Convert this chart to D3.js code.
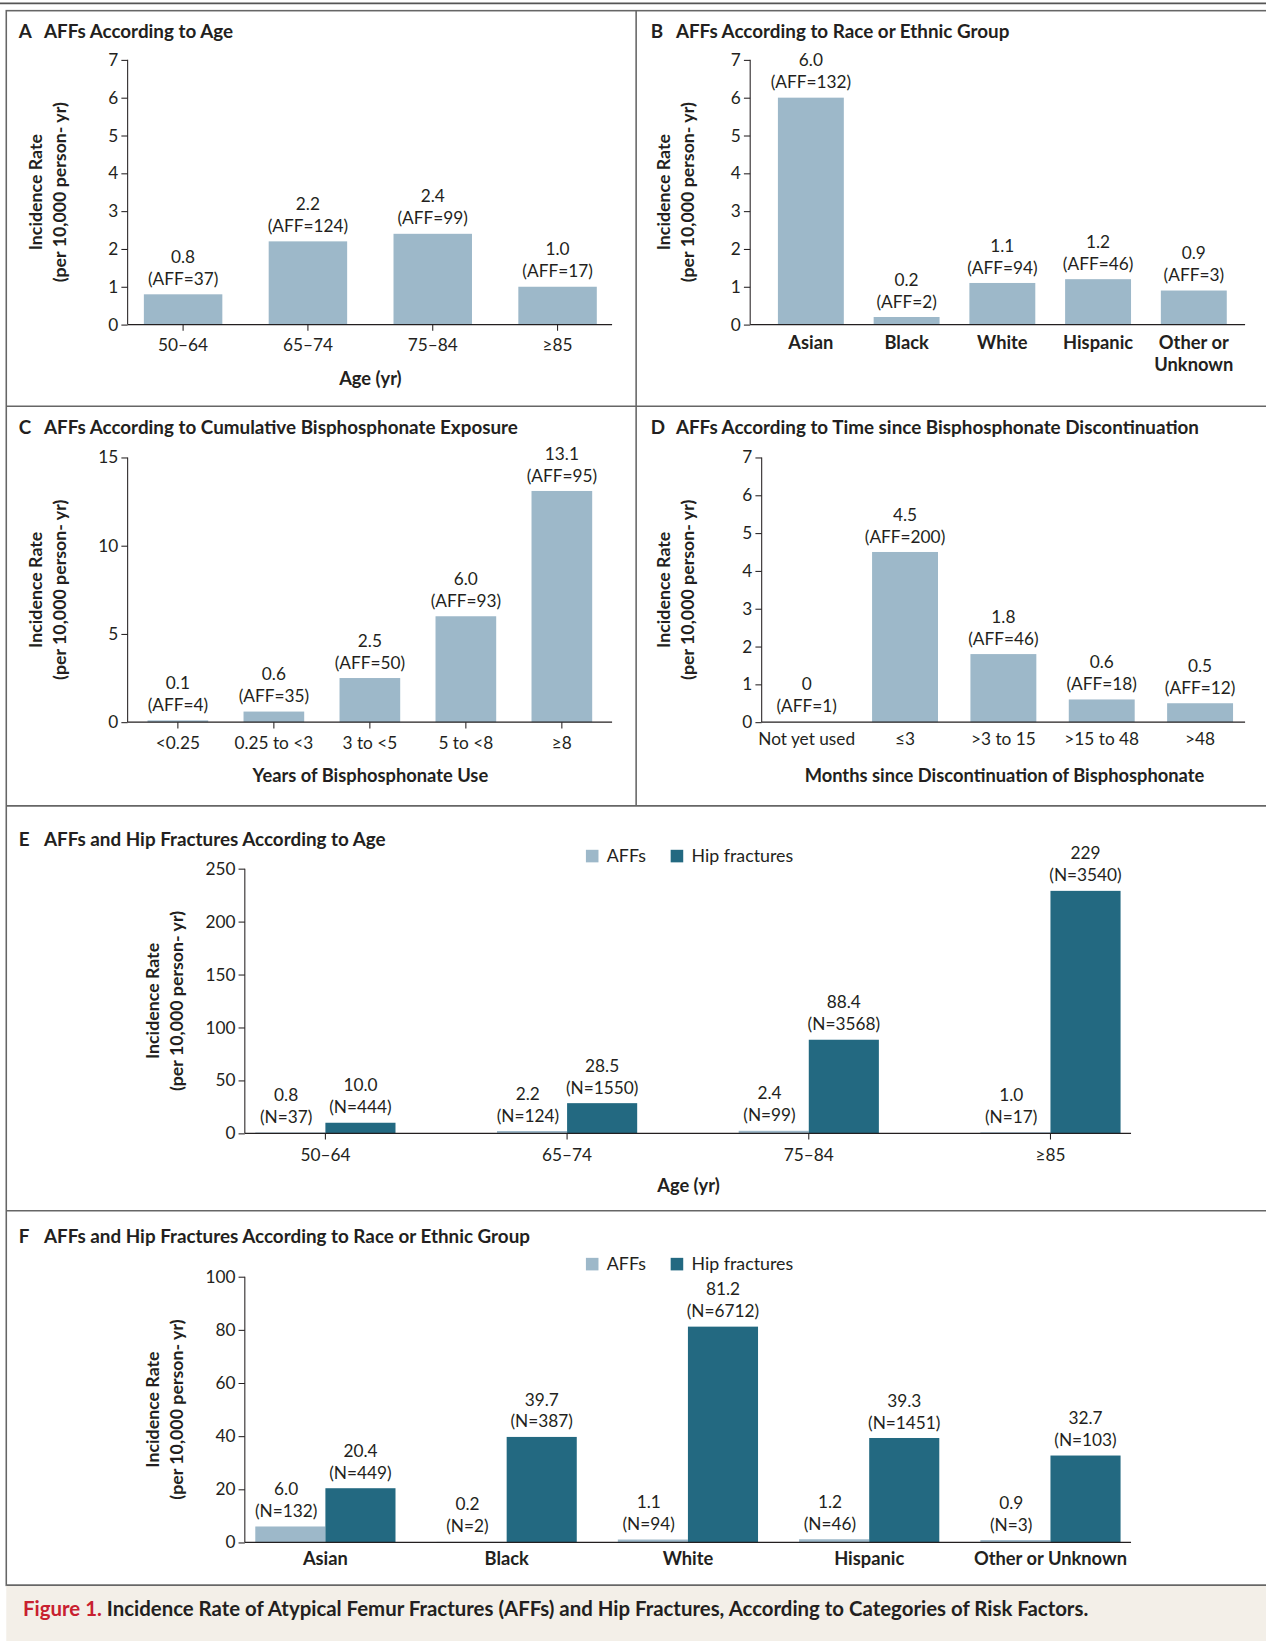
<!DOCTYPE html>
<html><head><meta charset="utf-8">
<script src="https://cdn.jsdelivr.net/npm/d3@7"></script>
<style>
body{margin:0;background:#fff}
svg{display:block;font-family:Lato,"Open Sans",sans-serif}
</style></head><body>
<script>
"use strict";

// panel A
var ageCats = ["50\u201364", "65\u201374", "75\u201384", "\u226585"];
var ageAff = [0.8, 2.2, 2.4, 1.0];
var ageAffN = [37, 124, 99, 17];
// panel B
var raceCats = ["Asian", "Black", "White", "Hispanic", "Other or|Unknown"];
var raceAff = [6.0, 0.2, 1.1, 1.2, 0.9];
var raceAffN = [132, 2, 94, 46, 3];
// panel C
var useCats = ["<0.25", "0.25 to <3", "3 to <5", "5 to <8", "\u22658"];
var useAff = [0.1, 0.6, 2.5, 6.0, 13.1];
var useAffN = [4, 35, 50, 93, 95];
// panel D
var discCats = ["Not yet used", "\u22643", ">3 to 15", ">15 to 48", ">48"];
var discAff = [0, 4.5, 1.8, 0.6, 0.5];
var discAffN = [1, 200, 46, 18, 12];
var discLabels = ["0", "4.5", "1.8", "0.6", "0.5"];
// panel E
var hipAge = [10.0, 28.5, 88.4, 229];
var hipAgeN = [444, 1550, 3568, 3540];
var hipAgeLabels = ["10.0", "28.5", "88.4", "229"];
// panel F
var raceCatsF = ["Asian", "Black", "White", "Hispanic", "Other or Unknown"];
var hipRace = [20.4, 39.7, 81.2, 39.3, 32.7];
var hipRaceN = [449, 387, 6712, 1451, 103];

var LIGHT = "#9db8c9", DARK = "#236981", INK = "#231f20";

var svg = d3.select("body").append("svg")
  .attr("width", 1266).attr("height", 1641)
  .attr("viewBox", "0 0 1210 1568");

// frame
svg.append("line").attr("x1", 0).attr("x2", 1210).attr("y1", 3).attr("y2", 3).attr("stroke", "#555").attr("stroke-width", 1.5);
svg.append("rect").attr("x", 6).attr("y", 10).attr("width", 1210).attr("height", 1505)
  .attr("fill", "none").attr("stroke", "#666").attr("stroke-width", 1.5);
svg.append("rect").attr("x", 6).attr("y", 1515).attr("width", 1210).attr("height", 60).attr("fill", "#f3efe8");
[[608, 10, 608, 770], [6, 388, 1210, 388], [6, 770, 1210, 770], [6, 1157, 1210, 1157], [6, 1515, 1210, 1515]]
  .forEach(function(l) {
    svg.append("line").attr("x1", l[0]).attr("y1", l[1]).attr("x2", l[2]).attr("y2", l[3])
      .attr("stroke", "#666").attr("stroke-width", 1.5);
  });

var cap = svg.append("text").attr("x", 22).attr("y", 1544).attr("font-size", 19.5).attr("font-weight", "bold").attr("fill", INK);
cap.append("tspan").attr("fill", "#c8202f").text("Figure 1. ");
cap.append("tspan").text("Incidence Rate of Atypical Femur Fractures (AFFs) and Hip Fractures, According to Categories of Risk Factors.");

function title(x, y, letter, t) {
  var g = svg.append("text").attr("x", x).attr("y", y).attr("font-size", 18).attr("font-weight", "bold").attr("fill", INK);
  g.append("tspan").text(letter);
  g.append("tspan").attr("x", x + 24).text(t);
}

function panel(o) {
  var g = svg.append("g");
  var step = o.step, n = o.cats.length;
  var x = d3.scaleBand().domain(o.cats).range([o.c0 - step / 2, o.c0 - step / 2 + step * n]).padding(0);
  var y = d3.scaleLinear().domain([0, o.max]).range([o.y0, o.yTop]);
  var cx = function(d) { return x(d) + x.bandwidth() / 2; };

  // y axis
  var ya = g.append("g").attr("transform", "translate(" + o.ax + ",0)")
    .call(d3.axisLeft(y).tickValues(o.ticks).tickFormat(d3.format("d")).tickSize(6).tickPadding(3));
  ya.select(".domain").attr("d", "M0," + o.yTop + "V" + o.y0).attr("stroke", INK);
  ya.selectAll("text").attr("font-size", 16.5).attr("fill", INK).attr("font-family", "Lato");
  ya.selectAll(".tick line").attr("stroke", INK);

  // bars
  o.series.forEach(function(s) {
    g.selectAll(null).data(o.cats).enter().append("rect")
      .attr("x", function(d) { return cx(d) + s.off; })
      .attr("width", s.w)
      .attr("y", function(d, i) { return y(s.vals[i]); })
      .attr("height", function(d, i) { return o.y0 - y(s.vals[i]); })
      .attr("fill", s.color);
    var lab = g.selectAll(null).data(o.cats).enter().append("text")
      .attr("text-anchor", "middle").attr("font-size", 16.5).attr("fill", INK);
    lab.append("tspan")
      .attr("x", function(d) { return cx(d) + s.off + s.w / 2 + (s.lx || 0); })
      .attr("y", function(d, i) { return Math.min(y(s.vals[i]), o.y0 - 1) - 30; })
      .text(function(d, i) { return s.labels[i]; });
    lab.append("tspan")
      .attr("x", function(d) { return cx(d) + s.off + s.w / 2 + (s.lx || 0); })
      .attr("dy", 21)
      .text(function(d, i) { return "(" + s.pre + "=" + s.ns[i] + ")"; });
  });

  // x axis line and ticks
  g.append("line").attr("x1", o.ax).attr("x2", o.axEnd).attr("y1", o.y0).attr("y2", o.y0).attr("stroke", INK).attr("stroke-width", 1.2);
  if (o.xticks) {
    g.selectAll(null).data(o.cats).enter().append("line")
      .attr("x1", cx).attr("x2", cx).attr("y1", o.y0).attr("y2", o.y0 + 6).attr("stroke", INK);
  }
  var xl = g.selectAll(null).data(o.cats).enter().append("text")
    .attr("text-anchor", "middle").attr("font-size", o.catBold ? 17.5 : 16.5)
    .attr("font-weight", o.catBold ? "bold" : "normal").attr("fill", INK);
  xl.each(function(d) {
    var parts = d.split("|"), t = d3.select(this);
    parts.forEach(function(p, i) {
      t.append("tspan").attr("x", cx(d)).attr("y", o.y0 + o.catDy + i * 21).text(p);
    });
  });

  // axis titles
  if (o.xTitle) {
    g.append("text").attr("x", o.xTitleX).attr("y", o.xTitleY).attr("text-anchor", "middle")
      .attr("font-size", 17.5).attr("font-weight", "bold").attr("fill", INK).text(o.xTitle);
  }
  var mid = (o.y0 + o.yTop) / 2;
  var yt = g.append("text").attr("transform", "translate(" + o.ylx + "," + mid + ") rotate(-90)")
    .attr("text-anchor", "middle").attr("font-size", 17).attr("font-weight", "bold").attr("fill", INK);
  yt.append("tspan").attr("x", 0).attr("y", 0).text("Incidence Rate");
  yt.append("tspan").attr("x", 0).attr("y", 23).text("(per 10,000 person- yr)");

  if (o.legend) {
    var lg = g.append("g").attr("transform", "translate(" + o.legend[0] + "," + o.legend[1] + ")");
    [["AFFs", LIGHT, 0], ["Hip fractures", DARK, 81]].forEach(function(e) {
      lg.append("rect").attr("x", e[2]).attr("y", -6).attr("width", 12).attr("height", 12).attr("fill", e[1]);
      lg.append("text").attr("x", e[2] + 20).attr("y", 5.5).attr("font-size", 17).attr("fill", INK).text(e[0]);
    });
  }
}

function fmt(v) { return v.toFixed(1); }

title(18, 36, "A", "AFFs According to Age");
panel({cats: ageCats, c0: 175, step: 119.3, max: 7, y0: 310, yTop: 57, ax: 122, axEnd: 585,
  ticks: d3.range(0, 8), xticks: true, catDy: 25, ylx: 40,
  xTitle: "Age (yr)", xTitleX: 354, xTitleY: 368,
  series: [{vals: ageAff, labels: ageAff.map(fmt), ns: ageAffN, pre: "AFF", off: -37.5, w: 75, color: LIGHT}]});

title(622, 36, "B", "AFFs According to Race or Ethnic Group");
panel({cats: raceCats, c0: 775, step: 91.5, max: 7, y0: 310, yTop: 57, ax: 717, axEnd: 1190,
  ticks: d3.range(0, 8), xticks: false, catDy: 23, catBold: true, ylx: 640,
  series: [{vals: raceAff, labels: raceAff.map(fmt), ns: raceAffN, pre: "AFF", off: -31.5, w: 63, color: LIGHT}]});

title(18, 415, "C", "AFFs According to Cumulative Bisphosphonate Exposure");
panel({cats: useCats, c0: 170, step: 91.75, max: 15, y0: 690, yTop: 437, ax: 122, axEnd: 585,
  ticks: [0, 5, 10, 15], xticks: true, catDy: 26, ylx: 40,
  xTitle: "Years of Bisphosphonate Use", xTitleX: 354, xTitleY: 747,
  series: [{vals: useAff, labels: useAff.map(fmt), ns: useAffN, pre: "AFF", off: -29, w: 58, color: LIGHT}]});

title(622, 415, "D", "AFFs According to Time since Bisphosphonate Discontinuation");
panel({cats: discCats, c0: 771, step: 94, max: 7, y0: 690, yTop: 437, ax: 728, axEnd: 1190,
  ticks: d3.range(0, 8), xticks: false, catDy: 22, ylx: 640,
  xTitle: "Months since Discontinuation of Bisphosphonate", xTitleX: 960, xTitleY: 747,
  series: [{vals: discAff, labels: discLabels, ns: discAffN, pre: "AFF", off: -31.5, w: 63, color: LIGHT}]});

title(18, 808, "E", "AFFs and Hip Fractures According to Age");
panel({cats: ageCats, c0: 311, step: 231, max: 250, y0: 1083, yTop: 830, ax: 234, axEnd: 1081,
  ticks: d3.range(0, 251, 50), xticks: true, catDy: 26, ylx: 152,
  xTitle: "Age (yr)", xTitleX: 658, xTitleY: 1139, legend: [560, 818],
  series: [
    {vals: ageAff, labels: ageAff.map(fmt), ns: ageAffN, pre: "N", off: -67, w: 67, color: LIGHT, lx: -4},
    {vals: hipAge, labels: hipAgeLabels, ns: hipAgeN, pre: "N", off: 0, w: 67, color: DARK}]});

title(18, 1188, "F", "AFFs and Hip Fractures According to Race or Ethnic Group");
panel({cats: raceCatsF, c0: 311, step: 173.25, max: 100, y0: 1474, yTop: 1220, ax: 234, axEnd: 1081,
  ticks: d3.range(0, 101, 20), xticks: false, catDy: 22, catBold: true, ylx: 152, legend: [560, 1208],
  series: [
    {vals: raceAff, labels: raceAff.map(fmt), ns: raceAffN, pre: "N", off: -67, w: 67, color: LIGHT, lx: -4},
    {vals: hipRace, labels: hipRace.map(fmt), ns: hipRaceN, pre: "N", off: 0, w: 67, color: DARK}]});
</script>
</body></html>
